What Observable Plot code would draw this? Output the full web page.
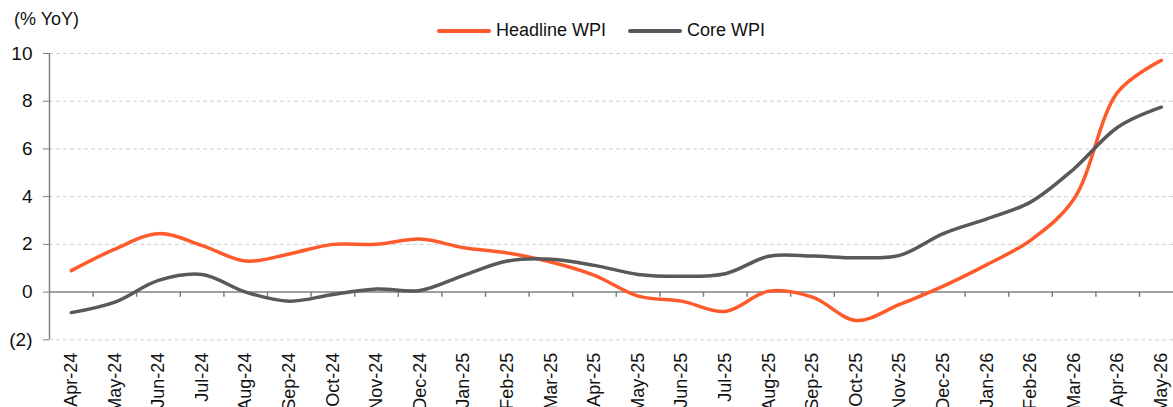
<!DOCTYPE html>
<html>
<head>
<meta charset="utf-8">
<script src="https://cdn.jsdelivr.net/npm/d3@7"></script>
<script src="https://cdn.jsdelivr.net/npm/@observablehq/plot@0.6"></script>
<style>
  html, body { margin: 0; padding: 0; background: #fff; }
  #wrap { position: relative; width: 1173px; height: 407px; overflow: hidden;
          font-family: "Liberation Sans", Arial, sans-serif; color: #111; }
  #unit { position: absolute; left: 14px; top: 9px; font-size: 18px; }
  #legend { position: absolute; left: 437px; top: 20px; display: flex; align-items: center; font-size: 18px; }
  .sw { display: inline-block; width: 54px; height: 4px; border-radius: 2px; margin-right: 5px; }
  .item { display: flex; align-items: center; margin-right: 22px; }
  #chart { position: absolute; left: 0; top: 0; }
</style>
</head>
<body>
<div id="wrap">
  <div id="chart"></div>
  <div id="unit">(% YoY)</div>
  <div id="legend"></div>
</div>
<script>
const months = ["Apr-24","May-24","Jun-24","Jul-24","Aug-24","Sep-24","Oct-24","Nov-24","Dec-24",
  "Jan-25","Feb-25","Mar-25","Apr-25","May-25","Jun-25","Jul-25","Aug-25","Sep-25","Oct-25","Nov-25","Dec-25",
  "Jan-26","Feb-26","Mar-26","Apr-26","May-26"];
const headline = [0.9,1.8,2.45,1.95,1.3,1.6,2.0,2.0,2.22,1.86,1.64,1.26,0.7,-0.17,-0.38,-0.81,0.04,-0.21,-1.19,-0.52,0.25,1.15,2.17,3.91,8.38,9.71];
const core = [-0.86,-0.42,0.49,0.74,0.0,-0.38,-0.1,0.13,0.07,0.7,1.3,1.38,1.12,0.74,0.66,0.77,1.5,1.51,1.44,1.54,2.45,3.07,3.77,5.17,6.91,7.75];
const seriesNames = ["Headline WPI", "Core WPI"];
const seriesColors = ["#FF5A2B", "#595959"];
const yTicks = [-2, 0, 2, 4, 6, 8, 10];

const rows = [];
months.forEach((m, i) => {
  rows.push({i, month: m, value: headline[i], series: seriesNames[0]});
  rows.push({i, month: m, value: core[i], series: seriesNames[1]});
});

const fontFam = '"Liberation Sans", Arial, sans-serif';
const chart = Plot.plot({
  width: 1173,
  height: 407,
  marginLeft: 49,
  marginRight: -9.6,
  marginTop: 53,
  marginBottom: 67.7,
  style: {fontFamily: fontFam, fontSize: "18px", color: "#111", background: "transparent"},
  x: {type: "linear", domain: [-0.5, months.length - 0.5], label: null},
  y: {domain: [-2, 10], label: null},
  color: {domain: seriesNames, range: seriesColors},
  marks: [
    Plot.ruleY(yTicks.filter(v => v !== 0), {stroke: "#d0d0d0", strokeDasharray: "4,3", strokeWidth: 1}),
    Plot.ruleX([-0.5], {stroke: "#808080", strokeWidth: 1.5}),
    Plot.ruleY([0], {stroke: "#808080", strokeWidth: 1.5}),
    Plot.ruleX(d3.range(months.length - 1).map(i => i + 0.5), {y1: 0, y2: -0.22, stroke: "#808080", strokeWidth: 1.5}),
    Plot.axisY({ticks: yTicks, tickFormat: v => v < 0 ? `(${Math.abs(v)})` : `${v}`, tickSize: 6, tickPadding: 11, stroke: "#808080", fontSize: 19, label: null}),
    Plot.axisX({ticks: d3.range(months.length), tickFormat: i => months[i], tickRotate: -90, tickSize: 0, tickPadding: 13, fontSize: 18, label: null}),
    Plot.line(rows, {x: "i", y: "value", stroke: "series", z: "series", strokeWidth: 3.5, curve: "catmull-rom"})
  ]
});
document.getElementById("chart").appendChild(chart);

const leg = document.getElementById("legend");
seriesNames.forEach((n, k) => {
  const it = document.createElement("div");
  it.className = "item";
  it.innerHTML = `<span class="sw" style="background:${seriesColors[k]}"></span><span>${n}</span>`;
  leg.appendChild(it);
});
</script>
</body>
</html>
